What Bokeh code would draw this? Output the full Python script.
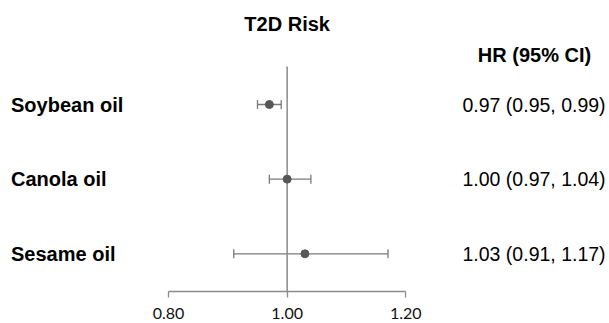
from bokeh.plotting import figure
from bokeh.models import ColumnDataSource, Range1d, FixedTicker, NumeralTickFormatter, Whisker, TeeHead, Label
from bokeh.core.properties import value
from bokeh.embed import file_html
from bokeh.resources import INLINE

# ---- data ----
oils = ["Soybean oil", "Canola oil", "Sesame oil"]
hr = [0.97, 1.00, 1.03]
ci_low = [0.95, 0.97, 0.91]
ci_high = [0.99, 1.04, 1.17]
x_ticks = [0.80, 1.00, 1.20]
title_text = "T2D Risk"
header_text = "HR (95% CI)"

rows = list(range(len(oils)))
ci_text = [f"{h:.2f} ({l:.2f}, {u:.2f})" for h, l, u in zip(hr, ci_low, ci_high)]

# ---- layout constants (pixel-derived) ----
FRAME_W = 609
FRAME_H = 291
PX_PER_UNIT = 593.25
X_START = 0.80 - 168 / PX_PER_UNIT
X_END = X_START + FRAME_W / PX_PER_UNIT
ROW_PX = 74.65
ROW0_PX = 104
Y_TOP = -ROW0_PX / ROW_PX
Y_BOT = (FRAME_H - ROW0_PX) / ROW_PX


def xpx(px):
    return X_START + px / PX_PER_UNIT


def ypx(px):
    return (px - ROW0_PX) / ROW_PX


src = ColumnDataSource(dict(y=rows, hr=hr, lo=ci_low, hi=ci_high, oil=oils, ci=ci_text,
                            lab_x=[xpx(10.5)] * len(rows),
                            ci_x=[xpx(462)] * len(rows)))

p = figure(frame_width=FRAME_W, frame_height=FRAME_H, output_backend="svg", toolbar_location=None,
           x_range=Range1d(X_START, X_END), y_range=Range1d(Y_BOT, Y_TOP),
           min_border=0, min_border_left=0, min_border_right=0, min_border_top=0, min_border_bottom=0)
p.outline_line_color = None
p.xgrid.visible = False
p.ygrid.visible = False
p.yaxis.visible = False
p.background_fill_color = "white"
p.border_fill_color = "white"

ax = p.xaxis[0]
ax.ticker = FixedTicker(ticks=x_ticks)
ax.formatter = NumeralTickFormatter(format="0.00")
ax.bounds = (x_ticks[0], x_ticks[-1])
ax.axis_line_color = "#8a8a8a"
ax.axis_line_width = 1.3
ax.major_tick_line_color = "#8a8a8a"
ax.major_tick_line_width = 1.3
ax.major_tick_in = 0
ax.major_tick_out = 6
ax.minor_tick_line_color = None
ax.major_label_standoff = 10
ax.major_label_text_font = "Lato"
ax.major_label_text_font_size = "16px"
ax.major_label_text_color = "#111111"

# reference line at 1.00
p.segment(x0=[1.0], x1=[1.0], y0=[ypx(66)], y1=[Y_BOT], line_color="#8a8a8a", line_width=1.5)

# CI whiskers
w = Whisker(source=src, base="y", lower="lo", upper="hi", dimension="width",
            line_color="#7a7a7a", line_width=1.3,
            lower_head=TeeHead(size=9, line_color="#7a7a7a", line_width=1.3),
            upper_head=TeeHead(size=9, line_color="#7a7a7a", line_width=1.3))
p.add_layout(w)

p.scatter(x="hr", y="y", source=src, size=8, fill_color="#575757", line_color="#575757")

# labels
p.text(x="lab_x", y="y", text="oil", source=src, text_font=value("Liberation Sans"),
       text_font_style="bold", text_font_size="20px", text_color="black",
       text_align="left", text_baseline="middle")
p.text(x="ci_x", y="y", text="ci", source=src, text_font=value("Liberation Sans"),
       text_font_size="19.5px", text_color="black",
       text_align="left", text_baseline="middle")

p.add_layout(Label(x=1.0, y=ypx(23.7), text=title_text, text_font="Liberation Sans",
                   text_font_style="bold", text_font_size="20px", text_color="black",
                   text_align="center", text_baseline="middle"))
p.add_layout(Label(x=xpx(534), y=ypx(54), text=header_text,
                   text_font="Liberation Sans", text_font_style="bold", text_font_size="20px",
                   text_color="black", text_align="center", text_baseline="middle"))

open("out.html", "w").write(file_html(p, INLINE))
